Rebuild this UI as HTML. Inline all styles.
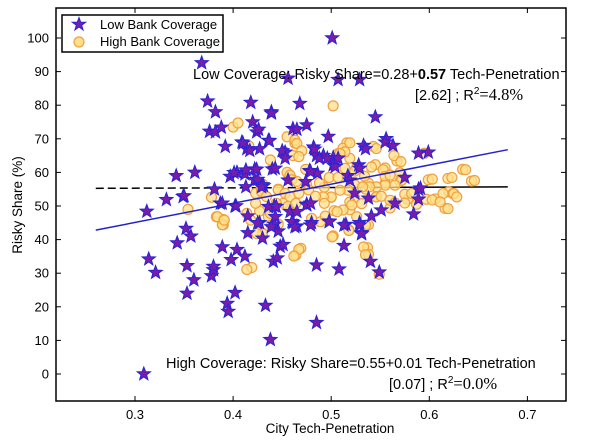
<!DOCTYPE html>
<html><head><meta charset="utf-8"><style>
html,body{margin:0;padding:0;background:#fff;}
svg{display:block;font-family:"Liberation Sans",sans-serif;}
</style></head><body>
<svg id="chart" width="600" height="446" viewBox="0 0 600 446" xmlns="http://www.w3.org/2000/svg">
<g id="marks"></g>
<g id="axes"></g>
</svg>
<script>
const lowX=[0.368,0.374,0.382,0.376,0.382,0.388,0.392,0.418,0.420,0.424,0.409,0.414,0.427,0.436,0.439,0.456,0.468,0.342,0.361,0.397,0.404,0.412,0.422,0.440,0.312,0.332,0.349,0.381,0.387,0.402,0.422,0.431,0.442,0.453,0.461,
0.501,0.507,0.529,0.545,0.497,0.556,0.555,0.563,0.533,0.535,0.599,0.589,0.482,0.502,0.492,0.485,0.528,0.502,0.478,0.575,0.517,0.589,0.589,0.475,
0.314,0.321,0.309,0.343,0.352,0.357,0.353,0.353,0.360,0.378,0.380,0.380,0.389,0.394,0.395,0.398,0.402,0.404,0.412,0.415,0.430,0.433,0.438,0.441,0.445,0.446,0.448,0.451,0.461,0.465,0.480,0.485,0.485,0.498,0.508,0.513,0.515,0.529,0.531,0.540,0.549,0.427,0.442,
0.413,0.424,0.401,0.425,0.430,0.443,0.350,0.389,0.403,0.436,0.444,0.458,0.465,0.475,0.479,0.415,0.425,0.439,0.443,0.460,0.463,0.479,0.498,0.513,0.529,0.531,0.541,0.551,0.565,0.538,0.524,0.519,0.529,0.504,0.507,0.488,0.496,0.483,0.486,0.479,0.474,0.456,0.413,0.429,0.437,0.450,0.453,0.465,0.475,0.439,0.426,0.417,0.410,0.591,0.584];
const lowY=[92.6,81.2,78,72.2,72,73.4,67.7,80.8,75,72,69,67,67,69.5,78,88,80.5,59,60,58.8,60,59.5,61,61,48.4,51.9,52.8,55,50.8,50,57.8,56,50,66,73,
100,87.6,87.6,76.5,70.7,70,69,68,68,67,66,65.7,67.5,64.4,65,65,62.2,62.2,60.5,58.5,59,55,52,50.5,
34.2,30.2,0,39,43.3,41,32.2,24,28,29.2,31,32,37.8,21,18.6,34,24.2,37,35,42,40.4,20.4,10.2,33.5,34.5,42.5,38,38.5,45,44,45,32.4,15.3,45.5,31.2,38.2,44.5,45,42,33.5,30.3,45,44.5,
60.7,60.9,59.9,57.9,56.3,61.2,53,50.8,50,49.8,49.8,48.3,48.3,50.3,50.8,47,44.9,43.8,46.8,45.3,43.8,44.3,45.3,44.3,44.3,41.7,47,48.8,50.8,52.3,53.8,57.7,61.2,61.7,64.2,64.2,64.2,66.9,59.7,60.2,57.2,57.7,55.7,55.7,69.4,66.4,64.2,72.8,74.1,77.6,72.8,66.5,68.7,55.3,47.6];
const highX=[0.400,0.405,0.416,0.438,0.378,0.354,0.383,0.390,0.414,0.427,0.423,0.430,0.446,0.451,0.455,0.463,0.461,0.452,0.455,0.460,
0.502,0.516,0.512,0.507,0.543,0.567,0.564,0.555,0.545,0.570,0.555,0.570,0.599,0.619,0.634,0.643,0.620,0.624,0.616,0.597,0.606,0.578,0.587,0.575,0.560,0.546,0.524,0.519,0.512,0.500,0.493,0.524,0.538,0.526,0.535,
0.390,0.419,0.430,0.464,0.469,0.502,0.518,0.537,0.538,0.538,0.549,0.489,0.446,
0.463,0.465,0.470,0.467,0.474,0.458,0.460,0.465,0.429,0.429,0.446,0.453,0.458,0.467,0.475,0.477,0.488,0.498,0.507,0.514,0.519,0.519,0.514,0.509,0.524,0.534,0.541,0.546,0.553,0.555,0.560,0.571,0.572,0.565,0.555,0.546,0.539,0.532,0.517,0.509,0.500,0.492,0.484,0.519,0.531,0.546,0.551,0.560,0.565,0.575,0.582,0.595,0.603,0.603,0.614,0.623,0.625,0.628,0.619,0.637,0.646,0.611,
0.384,0.389,0.391,0.418,0.424,0.436,0.439,0.438,0.423,0.434,0.444,0.456,0.464,0.480,0.494,0.503,0.506,0.493,0.521,0.526,0.535,0.518,0.501,0.533,0.535,0.467,0.462,0.414];
const highY=[73.5,74.7,67.9,63.7,52.6,49,46.8,46,47.8,48.5,53.8,56.5,55,50.8,70.6,68.7,65,66.2,60,58,
79.8,68.8,67.2,65.6,67.7,63.4,65,61.3,62.3,59.9,56.8,57.3,57.8,58.2,60.9,57.4,54.2,53.7,49.3,52,52.1,52,50.5,53.5,49.4,52.8,52.4,48.9,48.8,52.6,55.6,56.3,56.8,61.5,55,
44.4,31.7,41.9,35.4,37.4,41.1,42.9,37.6,35.6,44.4,29.7,45.3,44.6,
69.6,68.6,66.4,64.7,60.9,59.2,57.8,57.3,55.3,54.3,54.8,53.8,52.8,53.8,56.3,54.8,56.9,58.5,58.5,61.2,64.2,68.8,66.1,65.6,60.4,58.9,61.6,67.1,60.8,58.8,59.2,63.2,57.7,56.2,56.2,55.7,55.7,55.7,54.7,54.7,52.7,52.7,52.9,51.2,50.7,52.7,52.9,51.7,50.9,50.9,53.7,65.7,58,51.8,53.7,58.5,53.7,52.7,49.2,60.8,57.6,51.2,
46.8,44.4,45.8,45.8,41.8,46.8,44.3,47.8,50.8,52.8,50.8,49.9,50.8,46.3,47,48.6,48.3,50.8,50.3,46.8,44.3,42.7,40.8,37.8,35.5,37.1,35.1,31.1];
const lowFit=[0.26,0.68,0.28,0.57];   // xStart,xEnd,intercept,slope
const highFit=[0.26,0.68,0.55,0.01];
const xTicks=[0.3,0.4,0.5,0.6,0.7];
const yTicks=[0,10,20,30,40,50,60,70,80,90,100];

const L=56,R=566,T=8,B=401;
function sx(v){return 135+(v-0.3)*981;}
function sy(v){return 374-v*3.36;}
const NS="http://www.w3.org/2000/svg";
const marks=document.getElementById('marks'), axes=document.getElementById('axes');
function mk(tag,attrs,parent){const e=document.createElementNS(NS,tag);for(const k in attrs)e.setAttribute(k,attrs[k]);parent.appendChild(e);return e;}
function starPts(cx,cy,r){let p=[];for(let i=0;i<10;i++){const rr=i%2?r*0.42:r;const a=-Math.PI/2+i*Math.PI/5;p.push((cx+rr*Math.cos(a)).toFixed(1)+','+(cy+rr*Math.sin(a)).toFixed(1));}return p.join(' ');}

const hd=mk('line',{x1:sx(highFit[0]),y1:sy(highFit[2]*100+highFit[3]*100*highFit[0]),x2:sx(0.47),y2:sy(highFit[2]*100+highFit[3]*100*0.47),stroke:'#000','stroke-width':1.5,'stroke-dasharray':'8,4'},marks);


const hs=mk('line',{x1:sx(0.47),y1:sy(highFit[2]*100+highFit[3]*100*0.47),x2:sx(highFit[1]),y2:sy(highFit[2]*100+highFit[3]*100*highFit[1]),stroke:'#000','stroke-width':1.5},marks);



for(let i=0;i<highX.length;i++){
  const c=mk('circle',{cx:sx(highX[i]),cy:sy(highY[i]),r:5,fill:'#ffe08a','fill-opacity':0.75,stroke:'#f0a040','stroke-width':1.2},marks);
  
  
}
for(let i=0;i<lowX.length;i++){
  const s=mk('polygon',{points:starPts(sx(lowX[i]),sy(lowY[i]),7),fill:'#7a1ca8',stroke:'#2a22d8','stroke-width':1,'stroke-linejoin':'miter'},marks);
  
  
}
const bl=mk('line',{x1:sx(lowFit[0]),y1:sy(100*(lowFit[2]+lowFit[3]*lowFit[0])),x2:sx(lowFit[1]),y2:sy(100*(lowFit[2]+lowFit[3]*lowFit[1])),stroke:'#2222cc','stroke-width':1.5},marks);



const fr=mk('rect',{x:L,y:T,width:R-L,height:B-T,fill:'none',stroke:'#000','stroke-width':1.5},axes);


xTicks.forEach(v=>{
  const x=sx(v);
  mk('line',{x1:x,y1:B,x2:x,y2:B-5,stroke:'#000'},axes);
  mk('line',{x1:x,y1:T,x2:x,y2:T+5,stroke:'#000'},axes);
  const t=mk('text',{x:x,y:B+18,'text-anchor':'middle','font-size':13},axes);
  t.textContent=v.toFixed(1);
  
  
});
yTicks.forEach(v=>{
  const y=sy(v);
  mk('line',{x1:L,y1:y,x2:L+5,y2:y,stroke:'#000'},axes);
  mk('line',{x1:R,y1:y,x2:R-5,y2:y,stroke:'#000'},axes);
  const t=mk('text',{x:L-7,y:y+4.5,'text-anchor':'end','font-size':13},axes);
  t.textContent=String(v);
  
  
});
</script>
<svg style="position:absolute;left:0;top:0" width="600" height="446" xmlns="http://www.w3.org/2000/svg">
<text x="330" y="433" text-anchor="middle" font-size="13.5" font-family="Liberation Sans, sans-serif">City Tech-Penetration</text>
<text transform="translate(22,205) rotate(-90)" text-anchor="middle" font-size="13.5" font-family="Liberation Sans, sans-serif">Risky Share (%)</text>
<g>
<rect x="62" y="15" width="161" height="37" fill="#fff" stroke="#000" stroke-width="1.5"/>
<polygon points="79,17.5 80.7,22.2 85.7,22.2 81.6,25.2 83.1,30 79,27 74.9,30 76.4,25.2 72.3,22.2 77.3,22.2" fill="#7a1ca8" stroke="#2a22d8"/>
<text x="100" y="29" font-size="13" font-family="Liberation Sans, sans-serif">Low Bank Coverage</text>
<circle cx="79" cy="42" r="5" fill="#ffe08a" stroke="#f0a040" stroke-width="1.2"/>
<text x="100" y="46" font-size="13" font-family="Liberation Sans, sans-serif">High Bank Coverage</text>
</g>
<text x="193" y="79" font-size="14.5" font-family="Liberation Sans, sans-serif">Low Coverage: Risky Share=0.28+<tspan font-weight="bold">0.57</tspan> Tech-Penetration</text>
<text x="415" y="100" font-size="14.5" font-family="Liberation Sans, sans-serif">[2.62] ;  R<tspan font-size="10" dy="-6">2</tspan><tspan dy="6" font-family="Liberation Serif, serif" font-size="16.5">=4.8%</tspan></text>
<text x="166" y="368" font-size="14.5" font-family="Liberation Sans, sans-serif">High Coverage: Risky Share=0.55+0.01 Tech-Penetration</text>
<text x="389" y="389" font-size="14.5" font-family="Liberation Sans, sans-serif">[0.07] ; R<tspan font-size="10" dy="-6">2</tspan><tspan dy="6" font-family="Liberation Serif, serif" font-size="16.5">=0.0%</tspan></text>
</svg>
</body></html>
